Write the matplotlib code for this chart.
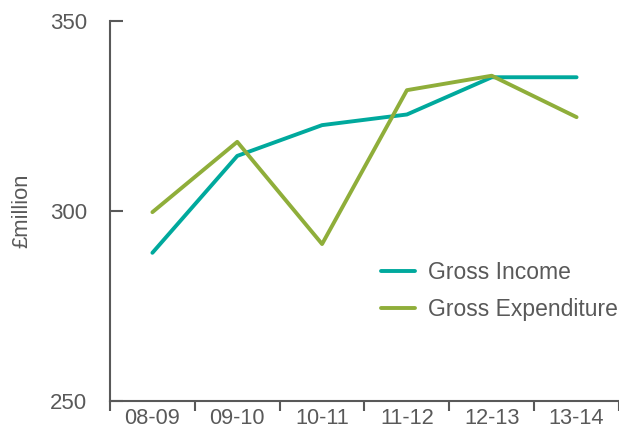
import numpy as np
import matplotlib.pyplot as plt

plt.rcParams['font.family'] = ['Liberation Sans', 'DejaVu Sans']

years = ['08-09', '09-10', '10-11', '11-12', '12-13', '13-14']
income = [289.0, 314.5, 322.6, 325.4, 335.2, 335.2]
expenditure = [299.7, 318.2, 291.3, 331.8, 335.6, 324.7]

grey = '#595959'
teal = '#00A99D'
olive = '#8FAE3A'

fig = plt.figure(figsize=(6.19, 4.36), dpi=100)
ax = fig.add_axes([0.1777, 0.0803, 0.8223, 0.8715])

x = np.arange(len(years))
ax.plot(x, income, color=teal, lw=2.8, label='Gross Income', solid_capstyle='round')
ax.plot(x, expenditure, color=olive, lw=2.8, label='Gross Expenditure', solid_capstyle='round')

ax.set_xlim(-0.5, len(years) - 0.5)
ax.set_ylim(250, 350)
ax.set_yticks([250, 300, 350])

# category labels on minor ticks, boundary marks on major ticks
ax.set_xticks(np.arange(len(years) + 1) - 0.5)
ax.set_xticklabels([])
ax.set_xticks(x, minor=True)
ax.set_xticklabels(years, minor=True)
ax.tick_params(axis='x', which='major', direction='out', length=7, width=1.5, color=grey)
ax.tick_params(axis='x', which='minor', length=0, pad=5, labelsize=15.7, labelcolor=grey)
ax.tick_params(axis='y', direction='in', length=9, width=1.5, color=grey,
               pad=16.5, labelsize=16, labelcolor=grey)

for s in ['top', 'right']:
    ax.spines[s].set_visible(False)
for s in ['left', 'bottom']:
    ax.spines[s].set_color(grey)
    ax.spines[s].set_linewidth(1.5)

ax.set_ylabel('£million', color=grey, fontsize=15.8, labelpad=13)

ax.legend(loc='center left', bbox_to_anchor=(381 / 619, 1 - 291 / 436),
          bbox_transform=fig.transFigure, frameon=False, borderpad=0, borderaxespad=0,
          fontsize=16.5, labelcolor=grey, handlelength=1.5, handletextpad=0.55,
          labelspacing=0.6)

fig.savefig('out.png', dpi=100)
